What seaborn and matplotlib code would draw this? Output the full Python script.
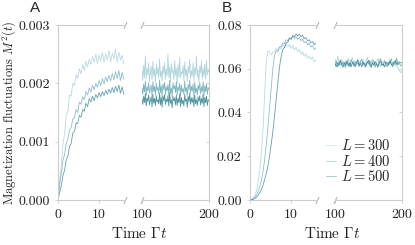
import numpy as np
import pandas as pd
import matplotlib
matplotlib.use('Agg')
import matplotlib.pyplot as plt
from matplotlib.ticker import FormatStrFormatter
from matplotlib.lines import Line2D
import seaborn as sns

# system sizes and line colours
sizes = [300, 400, 500]
colors = {300: '#9ccad3', 400: '#5ea4b1', 500: '#23798a'}

# time grids
t_early = np.arange(41) * 0.4          # 0 .. 16
t_late_a = np.linspace(100, 200, 81)
t_late_b = np.linspace(100, 200, 51)

# panel A, M^2 in units of 1e-5
a_early_300 = [0, 33, 60, 96, 112, 147, 152, 180, 178, 200,
               196, 215, 208, 225, 216, 232, 222, 238, 228, 242,
               233, 246, 236, 250, 234, 249, 238, 253, 236, 251,
               240, 256, 237, 252, 242, 259, 236, 254, 240, 248,
               233]
a_early_400 = [0, 26, 46, 68, 78, 97, 104, 120, 124, 139,
               141, 155, 150, 168, 164, 177, 172, 186, 180, 192,
               185, 197, 189, 200, 193, 205, 196, 208, 199, 211,
               203, 214, 204, 217, 206, 220, 208, 222, 205, 219,
               207]
a_early_500 = [0, 13, 24, 42, 51, 69, 75, 92, 97, 115,
               117, 132, 131, 145, 142, 155, 152, 166, 160, 174,
               168, 178, 170, 181, 175, 184, 177, 186, 179, 188,
               181, 190, 183, 193, 184, 195, 186, 197, 183, 194,
               181]
a_late_300 = [222, 205, 231, 210, 247, 208, 226, 214, 235, 203,
              219, 229, 206, 238, 212, 224, 201, 233, 215, 227,
              209, 242, 211, 221, 204, 230, 216, 236, 207, 225,
              213, 250, 210, 228, 202, 234, 218, 223, 206, 239,
              214, 226, 199, 232, 211, 244, 209, 220, 216, 231,
              205, 237, 213, 224, 203, 229, 217, 241, 208, 222,
              212, 235, 204, 227, 215, 246, 210, 223, 201, 230,
              218, 238, 207, 226, 211, 233, 206, 240, 214, 224,
              219]
a_late_400 = [192, 181, 199, 185, 204, 179, 194, 187, 201, 183,
              190, 197, 178, 203, 186, 195, 180, 200, 188, 193,
              182, 206, 184, 196, 177, 199, 189, 202, 181, 194,
              187, 198, 179, 205, 183, 192, 176, 201, 190, 196,
              184, 203, 180, 194, 188, 200, 178, 197, 185, 191,
              181, 204, 186, 193, 179, 198, 189, 206, 183, 195,
              187, 199, 177, 202, 184, 192, 180, 197, 188, 201,
              182, 194, 185, 203, 179, 196, 186, 199, 181, 193,
              189]
a_late_500 = [173, 164, 178, 167, 182, 161, 175, 169, 180, 163,
              171, 177, 160, 181, 166, 174, 162, 179, 168, 172,
              165, 183, 163, 176, 159, 178, 170, 181, 164, 173,
              168, 179, 161, 184, 166, 172, 158, 177, 170, 175,
              163, 180, 162, 174, 167, 182, 160, 176, 165, 171,
              161, 181, 169, 173, 159, 178, 168, 183, 164, 175,
              167, 176, 160, 180, 165, 172, 162, 177, 169, 179,
              163, 174, 166, 181, 160, 176, 167, 178, 162, 172,
              170]

# panel B, M^2 in units of 1e-3
b_early_300 = [0.0, 0.3, 1.0, 2.2, 4.5, 8.5, 14.0, 22.0, 33.0, 50.0,
               64.0, 68.3, 67.4, 66.3, 67.6, 67.9, 69.3, 68.2, 70.1, 69.0,
               71.2, 69.7, 71.6, 70.0, 71.0, 69.2, 70.8, 68.6, 69.8, 67.7,
               68.9, 66.6, 67.8, 65.7, 66.9, 64.7, 65.9, 64.2, 65.3, 63.2,
               64.0]
b_early_400 = [0.0, 0.2, 0.6, 1.3, 2.4, 4.0, 6.2, 9.3, 13.5, 19.0,
               26.0, 34.0, 43.0, 52.0, 61.0, 66.3, 68.2, 68.0, 69.9, 70.2,
               71.9, 71.5, 73.3, 72.7, 74.3, 73.5, 74.9, 73.8, 74.7, 73.4,
               74.3, 72.8, 73.6, 71.9, 72.5, 70.9, 71.7, 70.0, 70.6, 68.8,
               69.5]
b_early_500 = [0.0, 0.1, 0.3, 0.7, 1.3, 2.2, 3.4, 5.0, 7.0, 9.5,
               12.5, 16.0, 20.5, 26.0, 32.0, 39.0, 46.5, 54.0, 61.0, 66.0,
               68.8, 69.7, 71.9, 72.1, 73.8, 73.5, 75.2, 74.6, 75.9, 75.0,
               75.8, 74.6, 75.3, 73.7, 74.3, 72.8, 73.2, 71.9, 72.4, 71.0,
               71.6]
b_late_300 = [64.5, 62.0, 65.8, 63.1, 61.5, 64.2, 62.8, 60.9, 63.7, 62.2,
              64.9, 61.8, 63.4, 65.1, 62.5, 60.8, 63.0, 64.6, 61.9, 63.8,
              62.1, 64.0, 60.7, 62.9, 65.2, 63.3, 61.2, 62.7, 64.4, 62.0,
              60.5, 63.1, 64.8, 62.4, 61.0, 63.6, 62.3, 64.1, 61.4, 63.2,
              62.0, 64.3, 61.7, 63.0, 62.6, 61.1, 63.9, 60.4, 59.3, 58.2,
              59.0]
b_late_400 = [61.2, 63.5, 60.8, 62.9, 64.1, 61.6, 63.0, 62.2, 60.6, 63.8,
              62.4, 61.0, 64.2, 62.7, 61.3, 63.6, 61.9, 62.8, 60.9, 63.2,
              64.5, 61.8, 62.6, 60.7, 63.4, 62.1, 64.0, 61.5, 62.9, 63.7,
              61.1, 62.5, 60.6, 63.3, 64.7, 62.2, 61.4, 63.5, 62.0, 60.8,
              63.1, 62.4, 64.6, 61.7, 63.0, 62.3, 64.9, 61.8, 62.6, 61.2,
              62.0]
b_late_500 = [62.3, 60.9, 62.8, 61.5, 63.6, 62.0, 60.7, 62.9, 61.8, 63.3,
              61.2, 62.6, 60.8, 63.1, 62.2, 61.0, 62.7, 63.9, 61.6, 62.4,
              60.9, 63.0, 62.1, 61.3, 62.8, 63.7, 61.9, 60.6, 62.5, 61.7,
              63.2, 62.0, 61.1, 62.9, 63.4, 61.5, 62.2, 60.8, 63.0, 62.4,
              61.6, 63.5, 62.1, 61.0, 62.7, 63.8, 61.9, 62.5, 63.1, 62.8,
              62.6]


def long_df(t, series, scale):
    return pd.concat([pd.DataFrame({'t': t, 'M2': np.array(v) * scale, 'L': L})
                      for L, v in zip(sizes, series)], ignore_index=True)


sns.set_style('white')
plt.rcParams.update({
    'font.family': 'cmr10',
    'mathtext.fontset': 'cm',
    'axes.formatter.use_mathtext': True,
    'font.size': 10,
    'axes.edgecolor': '#cccccc',
    'axes.linewidth': 0.8,
    'xtick.color': '#cccccc',
    'ytick.color': '#cccccc',
    'xtick.labelcolor': '#222222',
    'ytick.labelcolor': '#222222',
    'xtick.major.size': 2.5,
    'ytick.major.size': 2.5,
    'xtick.major.width': 0.6,
    'ytick.major.width': 0.6,
    'xtick.labelsize': 10,
    'ytick.labelsize': 10,
    'axes.labelcolor': '#222222',
})

fig = plt.figure(figsize=(4.15, 2.45), dpi=100)
bot, hgt, wid = 45 / 245, 175 / 245, 67 / 415
ax_a1 = fig.add_axes([58 / 415, bot, wid, hgt])
ax_a2 = fig.add_axes([142 / 415, bot, wid, hgt])
ax_b1 = fig.add_axes([250 / 415, bot, wid, hgt])
ax_b2 = fig.add_axes([335 / 415, bot, wid, hgt])

panels = [
    (ax_a1, ax_a2, long_df(t_early, [a_early_300, a_early_400, a_early_500], 1e-5),
     long_df(t_late_a, [a_late_300, a_late_400, a_late_500], 1e-5),
     (0, 0.003), [0, 0.001, 0.002, 0.003], '%.3f'),
    (ax_b1, ax_b2, long_df(t_early, [b_early_300, b_early_400, b_early_500], 1e-3),
     long_df(t_late_b, [b_late_300, b_late_400, b_late_500], 1e-3),
     (0, 0.08), [0, 0.02, 0.04, 0.06, 0.08], '%.2f'),
]

brk = [(-0.45, -1), (0.45, 1)]
for ax1, ax2, df1, df2, ylim, yticks, fmt in panels:
    sns.lineplot(data=df1, x='t', y='M2', hue='L', palette=colors, estimator=None,
                 lw=0.6, alpha=0.7, legend=False, ax=ax1)
    sns.lineplot(data=df2, x='t', y='M2', hue='L', palette=colors, estimator=None,
                 lw=0.6, alpha=0.8, legend=False, ax=ax2)
    ax1.set_xlim(0, 16.3)
    ax2.set_xlim(100, 200)
    for ax in (ax1, ax2):
        ax.set_ylim(*ylim)
        ax.set_yticks(yticks)
        ax.set_xlabel('')
        ax.set_ylabel('')
    ax1.set_xticks([0, 10])
    ax2.set_xticks([100, 200])
    ax1.yaxis.set_major_formatter(FormatStrFormatter(fmt))
    ax1.spines['right'].set_visible(False)
    ax2.spines['left'].set_visible(False)
    ax1.tick_params(axis='y', left=True, direction='out')
    ax1.tick_params(axis='x', bottom=True)
    ax2.tick_params(axis='x', bottom=True)
    ax2.tick_params(axis='y', left=False, right=True, labelleft=False, direction='in')
    # break marks
    for ax, xb in ((ax1, 1), (ax2, 0)):
        ax.plot([xb, xb], [0, 1], transform=ax.transAxes, marker=brk, markersize=5,
                linestyle='none', color='#aaaaaa', mew=0.7, clip_on=False)

ax_a1.set_ylabel('Magnetization fluctuations $M^2(t)$', labelpad=0.3, fontsize=9)
fig.text(139 / 415, 1 - 233 / 245, r'Time $\Gamma t$', ha='center', va='center',
         color='#222222', fontsize=11)
fig.text(332 / 415, 1 - 233 / 245, r'Time $\Gamma t$', ha='center', va='center',
         color='#222222', fontsize=11)
fig.text(35 / 415, 1 - 8 / 245, 'A', family='Liberation Sans', fontsize=11,
         ha='center', va='center')
fig.text(227 / 415, 1 - 8 / 245, 'B', family='Liberation Sans', fontsize=11,
         ha='center', va='center')

handles = [Line2D([], [], color=colors[L], lw=0.6, alpha=0.45) for L in sizes]
ax_b2.legend(handles, [f'$L = {L}$' for L in sizes], loc='upper left',
             bbox_to_anchor=(326 / 415, 1 - 138 / 245), bbox_transform=fig.transFigure,
             frameon=False, handlelength=0.7, handletextpad=0.3, labelspacing=0.05,
             borderpad=0, borderaxespad=0, fontsize=10.5)

fig.savefig('out.png', dpi=100)
